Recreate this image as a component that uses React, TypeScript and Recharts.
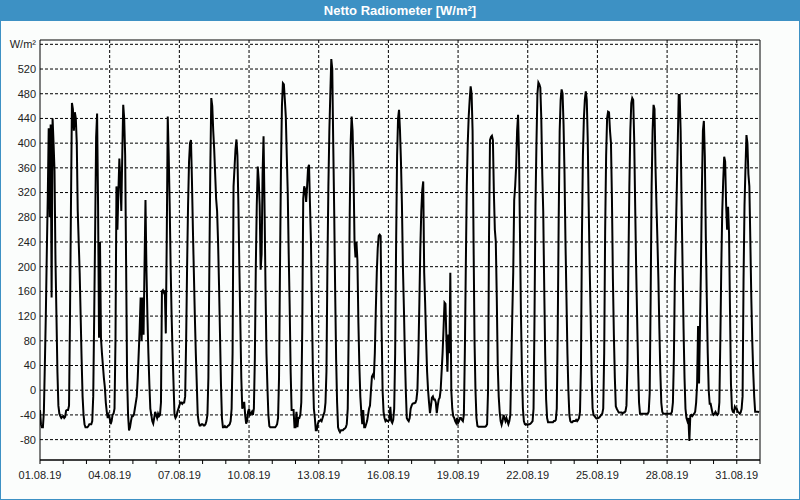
import { LineChart, Line, XAxis, YAxis, CartesianGrid, ReferenceArea } from "recharts";

// hourly net radiation, W/m², one array per day of August 2019 (hour 0..23)
const aug01 = [-32, -55, -60, -60, -35, 40, 120, 220, 310, 424, 280, 430, 150, 440, 400, 355, 210, 120, 30, -25, -38, -42, -45, -43];
const aug02 = [-42, -45, -43, -33, -32, -32, -25, 120, 300, 465, 455, 420, 450, 440, 400, 290, 240, 190, 120, 50, -10, -40, -55, -60];
const aug03 = [-60, -60, -58, -55, -55, -55, -50, -10, 120, 260, 410, 448, 300, 85, 240, 85, 60, 40, 20, 5, -20, -35, -45, -40];
const aug04 = [-45, -55, -50, -40, -38, -30, 80, 330, 260, 320, 375, 340, 290, 380, 462, 440, 380, 200, 20, -40, -65, -60, -50, -42];
const aug05 = [-42, -40, -30, -20, -10, 20, 60, 100, 150, 80, 150, 90, 200, 308, 195, 120, 60, 10, -30, -40, -50, -54, -45, -35];
const aug06 = [-40, -45, -38, -42, -40, -20, 160, 162, 158, 160, 92, 250, 443, 380, 300, 200, 120, 60, 10, -40, -45, -42, -35, -30];
const aug07 = [-25, -20, -20, -22, -20, -20, -10, 80, 200, 300, 370, 400, 405, 340, 260, 190, 120, 60, 10, -40, -52, -57, -57, -55];
const aug08 = [-55, -57, -57, -55, -50, -40, 20, 200, 360, 473, 460, 420, 390, 350, 310, 290, 240, 170, 90, 10, -45, -60, -60, -58];
const aug09 = [-60, -60, -58, -57, -55, -50, -30, 60, 330, 360, 390, 406, 380, 300, 200, 110, 20, -30, -25, -19, -40, -54, -50, -35];
const aug10 = [-30, -40, -38, -35, -40, -30, 50, 200, 300, 362, 340, 300, 195, 220, 350, 411, 300, 170, 60, 5, -40, -58, -60, -60];
const aug11 = [-60, -60, -60, -60, -58, -55, -45, 20, 200, 360, 460, 497, 495, 470, 443, 380, 320, 220, 135, 30, -32, -32, -32, -60];
const aug12 = [-60, -35, -60, -45, -45, -40, -20, 100, 310, 330, 325, 305, 330, 360, 365, 300, 240, 130, 30, -30, -45, -65, -65, -55];
const aug13 = [-50, -50, -48, -50, -45, -40, -35, -20, 30, 200, 330, 420, 480, 536, 520, 400, 290, 160, 50, -20, -60, -65, -68, -65];
const aug14 = [-65, -65, -63, -62, -60, -55, -30, 100, 280, 400, 443, 420, 351, 240, 215, 240, 210, 110, 40, -10, -35, -55, -32, -60];
const aug15 = [-60, -55, -50, -40, -30, -25, 0, 22, 25, 22, 60, 130, 190, 230, 250, 252, 250, 100, 0, -35, -45, -50, -48, -50];
const aug16 = [-50, -48, -27, -50, -53, -48, -30, 60, 240, 380, 440, 454, 420, 370, 300, 200, 135, 60, 0, -45, -48, -50, -45, -30];
const aug17 = [-25, -22, -21, -21, -20, -15, 0, 60, 140, 230, 290, 324, 338, 190, 140, 80, 30, 0, -20, -37, -25, -12, -10, -15];
const aug18 = [-15, -20, -37, -25, -15, -12, 0, 30, 60, 100, 142, 140, 80, 30, 90, 60, 190, 0, -30, -42, -45, -50, -53, -45];
const aug19 = [-53, -50, -45, -45, -48, -50, -40, 60, 200, 330, 400, 443, 470, 492, 480, 420, 243, 81, 0, -45, -58, -59, -59, -59];
const aug20 = [-59, -59, -59, -59, -59, -58, -55, 0, 250, 405, 410, 412, 405, 320, 260, 240, 150, 40, -10, -35, -50, -56, -50, -40];
const aug21 = [-45, -50, -45, -50, -55, -50, -40, 40, 120, 190, 308, 330, 362, 420, 446, 380, 250, 120, 30, -30, -50, -55, -56, -55];
const aug22 = [-56, -55, -55, -54, -52, -50, -30, 120, 300, 400, 480, 498, 495, 490, 440, 350, 290, 170, 60, -15, -45, -52, -52, -52];
const aug23 = [-52, -52, -52, -50, -50, -48, -30, 100, 280, 420, 470, 487, 480, 430, 350, 240, 150, 60, 0, -40, -50, -52, -52, -50];
const aug24 = [-50, -50, -48, -50, -48, -45, -35, 40, 250, 380, 440, 470, 484, 470, 405, 296, 200, 120, 25, -30, -40, -42, -44, -46];
const aug25 = [-46, -45, -44, -42, -40, -38, -30, 60, 260, 380, 440, 451, 450, 420, 400, 310, 180, 90, 20, -26, -30, -33, -36, -36];
const aug26 = [-36, -36, -38, -36, -36, -34, -25, 40, 200, 330, 420, 465, 473, 470, 405, 300, 200, 120, 40, -20, -38, -38, -38, -38];
const aug27 = [-38, -38, -38, -38, -38, -35, -5, 150, 330, 420, 462, 455, 362, 300, 243, 180, 100, 30, -20, -35, -38, -38, -38, -38];
const aug28 = [-38, -38, -38, -38, -38, -35, -20, 50, 180, 250, 324, 400, 478, 478, 420, 300, 200, 100, 20, -30, -45, -50, -45, -82];
const aug29 = [-41, -40, -42, -40, -38, -35, -20, 10, 104, 11, 103, 200, 330, 420, 436, 378, 250, 150, 60, 0, -22, -22, -30, -38];
const aug30 = [-40, -38, -35, -38, -40, -38, -20, 80, 200, 290, 340, 378, 370, 300, 260, 297, 254, 130, 10, -30, -35, -36, -27, -30];
const aug31 = [-30, -35, -36, -38, -36, -30, -10, 180, 300, 360, 413, 400, 350, 330, 243, 150, 80, 30, -10, -35, -35, -35, -35, -36];

const days = [
  aug01, aug02, aug03, aug04, aug05, aug06, aug07, aug08, aug09, aug10,
  aug11, aug12, aug13, aug14, aug15, aug16, aug17, aug18, aug19, aug20,
  aug21, aug22, aug23, aug24, aug25, aug26, aug27, aug28, aug29, aug30, aug31,
];

const dayTicks = [0, 1, 2, 3, 4, 5, 6, 7, 8, 9, 10, 11, 12, 13, 14, 15, 16, 17, 18, 19, 20, 21, 22, 23, 24, 25, 26, 27, 28, 29, 30, 31];
const labelDays = [0, 3, 6, 9, 12, 15, 18, 21, 24, 27, 30];
const dateLabels = ["01.08.19", "04.08.19", "07.08.19", "10.08.19", "13.08.19", "16.08.19", "19.08.19", "22.08.19", "25.08.19", "28.08.19", "31.08.19"];
const yTicks = [-80, -40, 0, 40, 80, 120, 160, 200, 240, 280, 320, 360, 400, 440, 480, 520, 560];
const yMin = -113;
const yMax = 567;

const data = days.flatMap((vals, d) => vals.map((v, h) => ({ t: d + h / 24, v })));

const BLUE = "#3d91c4";
const FONT = "'Liberation Sans', Arial, sans-serif";

export default function App() {
  const fmtX = (v: number) => {
    const i = labelDays.indexOf(v);
    return i >= 0 ? dateLabels[i] : "";
  };
  const fmtY = (v: number) => (v === 560 ? "W/m²" : String(v));

  return (
    <div
      style={{
        position: "absolute",
        left: 0,
        top: 0,
        width: 800,
        height: 500,
        background: "#fbfdfc",
        boxShadow: `inset 1px 0 0 ${BLUE}, inset -1px 0 0 ${BLUE}, inset 0 -1px 0 ${BLUE}`,
        fontFamily: FONT,
        overflow: "hidden",
      }}
    >
      <div
        style={{
          position: "absolute",
          left: 0,
          top: 0,
          width: 800,
          height: 21,
          background: BLUE,
          color: "#fff",
          fontWeight: "bold",
          fontSize: 13,
          lineHeight: "21px",
          textAlign: "center",
        }}
      >
        Netto Radiometer [W/m²]
      </div>
      <div style={{ position: "absolute", left: 0, top: 0 }}>
        <LineChart width={800} height={500} data={data} margin={{ top: 40, right: 40, left: 0, bottom: 0 }}>
          <CartesianGrid
            horizontalValues={yTicks}
            verticalValues={labelDays.slice(1)}
            stroke="#000"
            strokeDasharray="3 2"
          />
          <XAxis
            type="number"
            dataKey="t"
            domain={[0, 31]}
            allowDataOverflow
            ticks={dayTicks}
            interval={0}
            tickFormatter={fmtX}
            height={40}
            tickSize={4}
            tickMargin={7}
            stroke="#000"
            tick={{ fill: "#222", fontSize: 11, fontFamily: FONT }}
          />
          <YAxis
            type="number"
            domain={[yMin, yMax]}
            allowDataOverflow
            ticks={yTicks}
            interval={0}
            tickFormatter={fmtY}
            width={40}
            tickLine={false}
            axisLine={false}
            tickSize={2}
            tickMargin={2}
            tick={{ fill: "#222", fontSize: 11, fontFamily: FONT }}
          />
          <ReferenceArea x1={0} x2={31} y1={yMin} y2={yMax} fill="none" stroke="#000" strokeWidth={1} />
          <Line
            type="linear"
            dataKey="v"
            stroke="#000"
            strokeWidth={2}
            dot={false}
            isAnimationActive={false}
          />
        </LineChart>
      </div>
    </div>
  );
}
